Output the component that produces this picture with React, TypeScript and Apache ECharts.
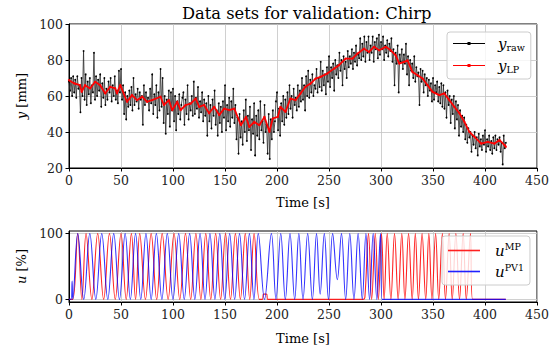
import React, { useEffect, useRef } from "react";
import * as echarts from "echarts";

const titleText = "Data sets for validation: Chirp";
const xTicks = [0, 50, 100, 150, 200, 250, 300, 350, 400, 450];

// y_raw sampled every 1 s, t = 0..420
const yRaw = [
  68, 63, 70, 60, 71, 62, 69, 59, 71, 64,
  66, 51, 70, 60, 85, 58, 72, 55, 68, 61,
  70, 56, 66, 62, 84, 58, 71, 60, 69, 63,
  72, 54, 67, 59, 70, 55, 64, 58, 68, 62,
  70, 57, 66, 60, 71, 58, 63, 56, 74, 62,
  75, 58, 66, 50, 62, 47, 60, 54, 63, 55,
  65, 52, 70, 55, 61, 57, 64, 53, 62, 58,
  60, 44, 66, 55, 62, 57, 59, 52, 64, 56,
  72, 50, 61, 55, 66, 48, 62, 52, 75, 54,
  70, 45, 60, 39, 58, 50, 63, 43, 62, 52,
  64, 46, 60, 41, 57, 50, 61, 47, 55, 59,
  62, 44, 58, 50, 66, 47, 56, 52, 60, 49,
  68, 50, 59, 53, 65, 48, 57, 51, 62, 46,
  58, 49, 56, 38, 60, 46, 55, 42, 58, 49,
  63, 44, 52, 38, 56, 45, 54, 40, 57, 48,
  66, 41, 55, 46, 59, 43, 57, 48, 64, 45,
  55, 36, 48, 28, 50, 37, 46, 33, 52, 40,
  58, 35, 49, 41, 54, 30, 47, 39, 56, 27,
  49, 38, 52, 36, 57, 41, 46, 34, 55, 40,
  44, 28, 50, 25, 47, 36, 52, 40, 46, 57,
  62, 41, 53, 38, 56, 46, 60, 44, 58, 48,
  62, 50, 66, 53, 60, 48, 64, 55, 59, 52,
  66, 54, 63, 57, 70, 58, 66, 52, 71, 60,
  74, 59, 69, 62, 72, 60, 66, 64, 75, 62,
  70, 65, 79, 63, 74, 66, 72, 61, 76, 68,
  82, 65, 76, 70, 78, 63, 80, 72, 77, 70,
  84, 74, 80, 66, 82, 75, 79, 70, 85, 76,
  82, 78, 86, 75, 84, 79, 88, 77, 83, 81,
  92, 80, 89, 82, 93, 79, 90, 84, 93, 80,
  88, 84, 93, 79, 90, 86, 92, 81, 94, 83,
  90, 86, 93, 80, 88, 84, 91, 82, 89, 85,
  92, 79, 86, 66, 84, 78, 88, 62, 83, 79,
  86, 75, 83, 78, 89, 72, 82, 66, 80, 74,
  78, 70, 82, 68, 76, 71, 73, 55, 75, 68,
  74, 62, 72, 66, 70, 60, 69, 63, 67, 57,
  70, 58, 66, 62, 68, 57, 65, 56, 67, 54,
  66, 53, 62, 48, 63, 55, 60, 45, 58, 50,
  60, 42, 57, 47, 55, 38, 52, 43, 49, 40,
  48, 36, 44, 34, 42, 37, 40, 29, 38, 33,
  40, 31, 37, 27, 39, 32, 36, 30, 38, 33,
  41, 29, 36, 32, 38, 30, 35, 28, 37, 31,
  38, 30, 36, 33, 37, 29, 34, 22, 38, 31,
  34,
];

// y_LP readings
const lpT = [0, 5, 10.6, 12.2, 15.4, 20.3, 25.1, 30, 34.8, 39.6, 44.5, 46.1, 49.3, 55.8, 60.6, 65.4, 70.3, 75.1, 79.9, 88, 91.2, 96, 99.3, 104.1, 107.3, 112.2, 117, 121.8, 125.1, 129.9, 134.7, 139.6, 144.4, 149.2, 154.1, 158.9, 165.3, 170.2, 173.4, 178.2, 183, 187.9, 192.7, 195.9, 200.8, 203.3, 208.1, 212.9, 217.8, 222.6, 227.4, 232.3, 237.1, 241.9, 248.3, 254.8, 259.6, 266, 272.5, 277.3, 283.7, 288.5, 293.3, 298.2, 304.6, 309.4, 314.2, 317.5, 322.3, 325.5, 330.3, 335.2, 340, 344.8, 349.6, 356.1, 360.9, 365.7, 370.5, 375.4, 380.2, 385, 389.9, 396.3, 402.7, 409.1, 414, 418.8, 420];
const lpV = [68.8, 67, 66, 62.3, 66, 64.2, 67.9, 66, 61.4, 65.1, 64.2, 61.4, 66, 56.8, 60.5, 57.7, 59.6, 56.8, 57.7, 59.6, 55, 57.7, 52.1, 56.8, 52.1, 55, 55.8, 58.6, 54, 55, 50.4, 54, 49.4, 53, 52.1, 53, 43.8, 48.4, 42.8, 45.6, 43.8, 48.4, 40.1, 47.5, 48.4, 54, 51.2, 58.6, 57.7, 61.4, 65.1, 66.9, 69.7, 70.6, 72.5, 75.2, 77.1, 80.8, 80.8, 83.5, 86.3, 84.5, 87.3, 85.4, 87.3, 85.4, 82.6, 78, 78.9, 79.8, 73.3, 71.5, 69.7, 66, 62.3, 60.5, 61.4, 57.7, 54, 50.4, 45.6, 40.1, 37.3, 33.6, 34.5, 33.6, 35.5, 32.7, 31.8];

// u_MP turning points
const mpT = [0, 3.6, 8.4, 12.4, 16.4, 22, 27.6, 33.3, 38.9, 44.5, 50, 55, 60, 64, 68, 73.5, 79, 84.3, 89.6, 95.3, 101, 106.5, 112, 117, 122, 126.8, 131.5, 136.3, 141, 145.8, 150.5, 155.3, 160, 164.8, 169.5, 173.8, 178, 183, 186, 187, 190, 191, 283, 284.5, 288, 291, 294.5, 297.5, 300.5, 303, 306, 309.5, 313, 316.5, 320, 323, 326.5, 330, 333, 336, 339.5, 343, 346, 349, 352.5, 355.5, 359, 362, 365.5, 368.5, 372, 375.5, 379, 382, 386, 388, 420];
const mpV = [0, 0, 100, 0, 100, 0, 100, 0, 100, 0, 100, 0, 100, 0, 100, 0, 100, 0, 100, 0, 100, 0, 100, 0, 100, 0, 100, 0, 100, 0, 100, 0, 100, 0, 100, 0, 100, 0, 0, 8, 8, 0, 0, 3, 100, 0, 100, 0, 100, 0, 100, 0, 100, 0, 100, 0, 100, 0, 100, 0, 100, 0, 100, 0, 100, 0, 100, 0, 100, 0, 100, 0, 100, 0, 100, 0, 0];

// u_PV1 turning points
const pvT = [0, 2, 3, 3.6, 8.4, 14.2, 20, 25.8, 31.5, 37.3, 43, 48.5, 54, 59, 64, 69, 74, 79, 84, 89.3, 94.5, 100, 105.5, 110.8, 116, 121, 126, 130.8, 135.5, 140.3, 145, 149.8, 154.5, 159.3, 164, 168.8, 173.5, 177.8, 182, 188, 194.6, 199, 203.6, 208, 212.5, 217, 221, 225, 229.5, 234, 238, 241.5, 245.5, 249.5, 253.5, 258, 262, 266, 270, 274, 278, 282, 285.5, 289, 292.5, 296, 299.5, 301, 420];
const pvV = [0, 0, 28, 0, 100, 0, 100, 0, 100, 0, 100, 0, 100, 0, 100, 0, 100, 0, 100, 0, 100, 0, 100, 0, 100, 0, 100, 0, 100, 0, 100, 0, 100, 0, 100, 0, 100, 0, 100, 0, 100, 0, 100, 0, 100, 0, 100, 0, 100, 0, 100, 8, 100, 0, 100, 30, 100, 0, 100, 0, 100, 0, 100, 0, 100, 0, 100, 0, 0];

const FONT = "DejaVu Serif";
const GRID_COLOR = "#c4c4c4";
const LINE_DOT_ICON = "path://M0,1.1H32V2.1H0Z M14.5,0H17.5V3.2H14.5Z";

export default function App() {
  const ref = useRef<HTMLDivElement>(null);
  useEffect(() => {
    if (!ref.current) return;
    const chart = echarts.init(ref.current, undefined, { renderer: "svg" });
    const rawData = yRaw.map((v, i) => [i, v]);
    const lpData = lpT.map((t, i) => [t, lpV[i]]);
    const mpData = mpT.map((t, i) => [t, mpV[i]]);
    const pvData = pvT.map((t, i) => [t, pvV[i]]);

    const xAxisBase = (gridIndex: number, gap: number) => ({
      type: "value" as const,
      gridIndex,
      min: 0,
      max: 450,
      interval: 50,
      name: "Time [s]",
      nameLocation: "middle" as const,
      nameGap: gap,
      nameTextStyle: { fontFamily: FONT, fontSize: 13, color: "#000" },
      axisLine: { show: true, onZero: false, lineStyle: { color: "#000", width: 1 } },
      axisTick: { show: true, length: 3.5, lineStyle: { color: "#000" } },
      axisLabel: { fontFamily: FONT, fontSize: 12.5, color: "#222", margin: 6 },
      splitLine: { show: true, lineStyle: { color: GRID_COLOR, width: 0.8 } },
    });

    const richLegend = {
      i: { fontFamily: FONT, fontStyle: "italic", fontSize: 15, color: "#000", verticalAlign: "middle", lineHeight: 19 },
      s: { fontFamily: FONT, fontSize: 9.5, color: "#000", verticalAlign: "bottom", lineHeight: 9 },
      p: { fontFamily: FONT, fontSize: 9.5, color: "#000", verticalAlign: "top", lineHeight: 9 },
    };

    chart.setOption({
      animation: false,
      backgroundColor: "#fff",
      title: {
        text: titleText,
        left: 177,
        top: 0,
        textStyle: { fontFamily: FONT, fontSize: 16.3, fontWeight: "normal", color: "#000" },
      },
      grid: [
        { left: 69, top: 24, width: 468, height: 144, show: true, borderColor: "#000", borderWidth: 1, backgroundColor: "transparent" },
        { left: 69, top: 231, width: 468, height: 71, show: true, borderColor: "#000", borderWidth: 1, backgroundColor: "transparent" },
      ],
      xAxis: [xAxisBase(0, 28), xAxisBase(1, 30)],
      yAxis: [
        {
          type: "value",
          gridIndex: 0,
          min: 20,
          max: 100,
          interval: 20,
          name: "{i|y} [mm]",
          nameLocation: "middle",
          nameGap: 34,
          nameRotate: 90,
          nameTextStyle: {
            fontFamily: FONT, fontSize: 13, color: "#000",
            rich: { i: { fontFamily: FONT, fontStyle: "italic", fontSize: 13, color: "#000" } },
          },
          axisLine: { show: true, lineStyle: { color: "#000", width: 1 } },
          axisTick: { show: true, length: 3.5, lineStyle: { color: "#000" } },
          axisLabel: { fontFamily: FONT, fontSize: 12.5, color: "#222", margin: 6 },
          splitLine: { show: true, lineStyle: { color: GRID_COLOR, width: 0.8 } },
        },
        {
          type: "value",
          gridIndex: 1,
          min: -4,
          max: 104,
          name: "{i|u} [%]",
          nameLocation: "middle",
          nameGap: 34,
          nameRotate: 90,
          nameTextStyle: {
            fontFamily: FONT, fontSize: 13, color: "#000",
            rich: { i: { fontFamily: FONT, fontStyle: "italic", fontSize: 13, color: "#000" } },
          },
          axisLine: { show: true, onZero: false, lineStyle: { color: "#000", width: 1 } },
          axisTick: { show: true, length: 3.5, customValues: [0, 100], lineStyle: { color: "#000" } },
          axisLabel: { fontFamily: FONT, fontSize: 12.5, color: "#222", margin: 6, customValues: [0, 100] },
          splitLine: { show: true, lineStyle: { color: GRID_COLOR, width: 0.8 } },
        },
      ],
      legend: [
        {
          data: [
            { name: "yraw", icon: LINE_DOT_ICON },
            { name: "yLP", icon: LINE_DOT_ICON },
          ],
          orient: "vertical",
          left: 447,
          top: 32,
          width: 81,
          padding: [4, 6, 4, 6],
          itemWidth: 32,
          itemHeight: 3.2,
          itemGap: 5,
          backgroundColor: "rgba(255,255,255,0.8)",
          borderColor: "#cccccc",
          borderWidth: 1,
          borderRadius: 3,
          formatter: (name: string) => (name === "yraw" ? "{i|y}{s|raw}" : "{i|y}{s|LP}"),
          textStyle: { fontFamily: FONT, fontSize: 14, color: "#000", padding: [0, 0, 0, 8], rich: richLegend },
        },
        {
          data: [
            { name: "uMP", icon: "rect", itemStyle: { color: "#ff2020" } },
            { name: "uPV1", icon: "rect", itemStyle: { color: "#2020ff" } },
          ],
          orient: "vertical",
          left: 442,
          top: 236,
          width: 86,
          padding: [5, 6, 6, 6],
          itemWidth: 32,
          itemHeight: 1.6,
          itemGap: 4,
          backgroundColor: "rgba(255,255,255,0.8)",
          borderColor: "#cccccc",
          borderWidth: 1,
          borderRadius: 3,
          formatter: (name: string) => (name === "uMP" ? "{i|u}{p|MP}" : "{i|u}{p|PV1}"),
          textStyle: { fontFamily: FONT, fontSize: 14, color: "#000", padding: [0, 0, 0, 10], rich: richLegend },
        },
      ],
      series: [
        {
          name: "yraw",
          type: "line",
          xAxisIndex: 0,
          yAxisIndex: 0,
          data: rawData,
          symbol: "circle",
          symbolSize: 1.8,
          showSymbol: true,
          itemStyle: { color: "#000" },
          lineStyle: { color: "#2a2a2a", width: 0.8 },
          z: 2,
        },
        {
          name: "yLP",
          type: "line",
          xAxisIndex: 0,
          yAxisIndex: 0,
          data: lpData,
          symbol: "circle",
          symbolSize: 2,
          showSymbol: true,
          itemStyle: { color: "#ff0000" },
          lineStyle: { color: "#ff0000", width: 1.8 },
          z: 3,
        },
        {
          name: "uMP",
          type: "line",
          xAxisIndex: 1,
          yAxisIndex: 1,
          data: mpData,
          symbol: "none",
          smooth: 0.4,
          itemStyle: { color: "#ff0000" },
          lineStyle: { color: "rgba(255,0,0,0.85)", width: 1.1 },
          z: 2,
        },
        {
          name: "uPV1",
          type: "line",
          xAxisIndex: 1,
          yAxisIndex: 1,
          data: pvData,
          symbol: "none",
          smooth: 0.4,
          itemStyle: { color: "#0000ff" },
          lineStyle: { color: "rgba(0,0,255,0.8)", width: 1.1 },
          z: 3,
        },
      ],
    });
    return () => chart.dispose();
  }, []);
  return <div ref={ref} style={{ position: "absolute", left: 0, top: 0, width: 559, height: 353 }} />;
}
